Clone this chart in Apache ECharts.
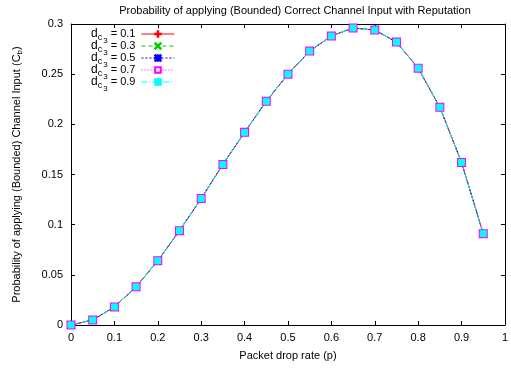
<!DOCTYPE html>
<html>
<head>
<meta charset="utf-8">
<script src="https://cdn.jsdelivr.net/npm/echarts@6/dist/echarts.min.js"></script>
<style>
  html, body { margin: 0; padding: 0; background: #fff; }
  #chart { width: 511px; height: 369px; }
</style>
</head>
<body>
<div id="chart"></div>
<script>
// packet drop rate p
const dropRates = [0, 0.05, 0.1, 0.15, 0.2, 0.25, 0.3, 0.35, 0.4, 0.45, 0.5,
    0.55, 0.6, 0.65, 0.7, 0.75, 0.8, 0.85, 0.9, 0.95];

// one curve per d_c3 value (they overlap in the picture)
const dc3_01 = [0, 0.005, 0.018, 0.038, 0.064, 0.094, 0.126, 0.160, 0.192, 0.223, 0.250,
    0.273, 0.288, 0.296, 0.294, 0.282, 0.256, 0.217, 0.162, 0.091];
const dc3_03 = [0, 0.005, 0.018, 0.038, 0.064, 0.094, 0.126, 0.160, 0.192, 0.223, 0.250,
    0.273, 0.288, 0.296, 0.294, 0.282, 0.256, 0.217, 0.162, 0.091];
const dc3_05 = [0, 0.005, 0.018, 0.038, 0.064, 0.094, 0.126, 0.160, 0.192, 0.223, 0.250,
    0.273, 0.288, 0.296, 0.294, 0.282, 0.256, 0.217, 0.162, 0.091];
const dc3_07 = [0, 0.005, 0.018, 0.038, 0.064, 0.094, 0.126, 0.160, 0.192, 0.223, 0.250,
    0.273, 0.288, 0.296, 0.294, 0.282, 0.256, 0.217, 0.162, 0.091];
const dc3_09 = [0, 0.005, 0.018, 0.038, 0.064, 0.094, 0.126, 0.160, 0.192, 0.223, 0.250,
    0.273, 0.288, 0.296, 0.294, 0.282, 0.256, 0.217, 0.162, 0.091];

const seriesNames = ["0.1", "0.3", "0.5", "0.7", "0.9"];

const FONT = "'Liberation Sans', Arial, sans-serif";
const AXIS_COLOR = "#000";

// marker shapes (gnuplot style: plus, cross, star, open box, filled box)
const PLUS = "path://M4.5,0h1v10h-1zM0,4.5h10v1h-10z";
const CROSS = "path://M0.7,0L5,4.3L9.3,0L10,0.7L5.7,5L10,9.3L9.3,10L5,5.7L0.7,10L0,9.3L4.3,5L0,0.7z";
const STAR = "path://M4.5,0h1v10h-1zM0,4.5h10v1h-10zM0.7,0L5,4.3L9.3,0L10,0.7L5.7,5L10,9.3L9.3,10L5,5.7L0.7,10L0,9.3L4.3,5L0,0.7z";

const styles = [
    { color: "#ff0000", type: "solid", symbol: PLUS, size: 7 },
    { color: "#00d000", type: [4, 3], symbol: CROSS, size: 6 },
    { color: "#0000ff", type: [2, 2], symbol: STAR, size: 6 },
    { color: "#ff00ff", type: [1, 2], symbol: "emptyRect", size: 7 },
    { color: "#00ffff", type: [6, 2, 1, 2], symbol: "rect", size: 6 },
];

const allData = [dc3_01, dc3_03, dc3_05, dc3_07, dc3_09];

const series = allData.map((vals, i) => ({
    name: seriesNames[i],
    type: "line",
    data: vals.map((v, k) => [dropRates[k], v]),
    symbol: styles[i].symbol,
    symbolSize: styles[i].size,
    showAllSymbol: true,
    smooth: false,
    animation: false,
    lineStyle: { color: styles[i].color, width: 1, type: styles[i].type },
    itemStyle: { color: styles[i].color, borderColor: styles[i].color, borderWidth: 1 },
    emphasis: { disabled: true },
}));

const chart = echarts.init(document.getElementById("chart"), null, { renderer: "canvas" });

const tickCommon = { show: true, inside: true, length: 4, lineStyle: { color: AXIS_COLOR, width: 1 } };

chart.setOption({
    animation: false,
    backgroundColor: "#fff",
    textStyle: { fontFamily: FONT },
    title: {
        text: "Probability of applying (Bounded) Correct Channel Input with Reputation",
        left: 290,
        textAlign: "center",
        top: 0,
        textStyle: { fontFamily: FONT, fontSize: 11, fontWeight: "normal", color: "#000" },
    },
    grid: { left: 71, right: 2, top: 24, bottom: 44 },
    legend: {
        orient: "vertical",
        left: 91,
        top: 28,
        align: "right",
        itemWidth: 33,
        itemHeight: 7,
        itemGap: -5,
        padding: 0,
        lineStyle: { width: 1 },
        data: seriesNames,
        formatter: (name) => "{d|d}{c|c}{t|3}{e| = " + name + "}",
        textStyle: {
            fontFamily: FONT,
            fontSize: 11,
            color: "#000",
            rich: {
                d: { fontSize: 12, fontFamily: FONT, color: "#000" },
                c: { fontSize: 9, fontFamily: FONT, color: "#000", padding: [7, 0, 0, 0] },
                t: { fontSize: 8, fontFamily: FONT, color: "#000", padding: [14, 0, 0, 1] },
                e: { fontSize: 11, fontFamily: FONT, color: "#000", padding: [0, 1, 0, 0] },
            },
        },
    },
    xAxis: [
        {
            type: "value",
            min: 0,
            max: 1,
            interval: 0.1,
            name: "Packet drop rate (p)",
            nameLocation: "middle",
            nameGap: 25,
            nameTextStyle: { fontFamily: FONT, fontSize: 11, color: "#000" },
            axisLine: { show: true, onZero: false, lineStyle: { color: AXIS_COLOR, width: 1 } },
            axisTick: tickCommon,
            splitLine: { show: false },
            axisLabel: {
                fontFamily: FONT, fontSize: 11, color: "#000", margin: 7,
                formatter: (v) => String(+v.toFixed(2)),
            },
        },
        {
            type: "value",
            position: "top",
            min: 0,
            max: 1,
            interval: 0.1,
            axisLine: { show: true, onZero: false, lineStyle: { color: AXIS_COLOR, width: 1 } },
            axisTick: tickCommon,
            axisLabel: { show: false },
            splitLine: { show: false },
        },
    ],
    yAxis: [
        {
            type: "value",
            min: 0,
            max: 0.3,
            interval: 0.05,
            name: "Probability of applying (Bounded) Channel Input (C{s|b})",
            nameLocation: "middle",
            nameGap: 47,
            nameRotate: 90,
            nameTextStyle: {
                fontFamily: FONT, fontSize: 11, color: "#000",
                rich: { s: { fontSize: 8, fontFamily: FONT, color: "#000", padding: [6, 0, 0, 0] } },
            },
            axisLine: { show: true, onZero: false, lineStyle: { color: AXIS_COLOR, width: 1 } },
            axisTick: tickCommon,
            splitLine: { show: false },
            axisLabel: {
                fontFamily: FONT, fontSize: 11, color: "#000", margin: 8,
                formatter: (v) => String(+v.toFixed(2)),
            },
        },
        {
            type: "value",
            position: "right",
            min: 0,
            max: 0.3,
            interval: 0.05,
            axisLine: { show: true, onZero: false, lineStyle: { color: AXIS_COLOR, width: 1 } },
            axisTick: tickCommon,
            axisLabel: { show: false },
            splitLine: { show: false },
        },
    ],
    series: series,
});
</script>
</body>
</html>
